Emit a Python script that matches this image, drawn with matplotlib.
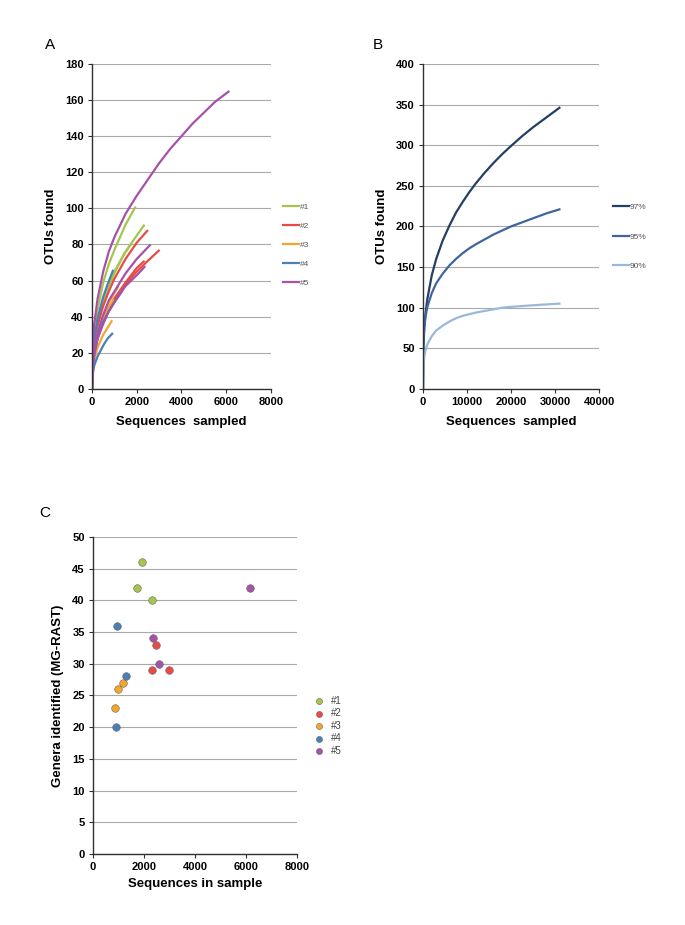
import matplotlib
matplotlib.use("Agg")
import matplotlib.pyplot as plt

plt.rcParams['font.family'] = ['Liberation Sans', 'DejaVu Sans']

# ---------------- Panel A: rarefaction curves per sample (OTUs found) ----------------
groups = ['#1', '#2', '#3', '#4', '#5']
group_colors = ['#a5c64c', '#ea4a45', '#f5a52b', '#4a80b5', '#a652a8']

# each sample: group, sequences sampled (x), OTUs found (y)
curve_groups = ['#1', '#1', '#1', '#2', '#2', '#2', '#3', '#3', '#3',
                '#4', '#4', '#4', '#5', '#5', '#5']
curve_x = [
    [0, 30, 100, 250, 500, 750, 1000, 1500, 1950],
    [0, 30, 100, 250, 500, 750, 1000, 1500, 2000, 2350],
    [0, 30, 100, 250, 500, 750, 1000, 1400, 1730],
    [0, 30, 100, 250, 500, 750, 1000, 1500, 2000, 2500],
    [0, 30, 100, 250, 500, 750, 1000, 1500, 2000, 2500, 3020],
    [0, 30, 100, 250, 500, 750, 1000, 1500, 2000, 2350],
    [0, 30, 100, 250, 500, 700, 900],
    [0, 30, 100, 250, 500, 750, 970],
    [0, 30, 100, 250, 500, 750, 1000, 1180],
    [0, 30, 100, 250, 500, 750, 1000, 1330],
    [0, 30, 100, 250, 500, 700, 935],
    [0, 30, 100, 250, 500, 700, 950],
    [0, 30, 100, 250, 500, 750, 1000, 1500, 2000, 2500, 3000, 3500, 4000,
     4500, 5000, 5500, 6140],
    [0, 30, 100, 250, 500, 750, 1000, 1500, 2000, 2620],
    [0, 30, 100, 250, 500, 750, 1000, 1500, 2000, 2380],
]
curve_y = [
    [0, 19, 31, 44, 59, 69, 77, 91, 101],
    [0, 16, 26, 37, 49, 58, 65, 76, 85, 91],
    [0, 16, 26, 37, 49, 57, 64, 74, 80],
    [0, 15, 24, 35, 46, 54, 61, 72, 81, 88],
    [0, 12, 20, 28, 38, 44, 50, 58, 65, 71, 77],
    [0, 12, 20, 29, 38, 45, 50, 59, 67, 71],
    [0, 10, 16, 23, 30, 34, 38],
    [0, 12, 20, 29, 38, 45, 50],
    [0, 13, 21, 31, 40, 48, 53, 57],
    [0, 12, 19, 28, 37, 43, 48, 54],
    [0, 8, 13, 18, 24, 28, 31],
    [0, 17, 27, 39, 51, 58, 66],
    [0, 23, 36, 50, 65, 76, 84, 97, 107, 116, 125, 133, 140,
     147, 153, 159, 165],
    [0, 13, 22, 31, 41, 49, 54, 64, 72, 80],
    [0, 12, 19, 28, 36, 43, 48, 57, 63, 68],
]

# ---------------- Panel B: pooled rarefaction at three identity cutoffs ----------------
cutoffs = ['97%', '95%', '90%']
cutoff_colors = ['#233f63', '#3f659c', '#9bb8dc']
pooled_x = [0, 100, 300, 600, 1000, 2000, 3000, 4500, 6000, 7500, 9000, 10500,
            12000, 14000, 16000, 18000, 20000, 22500, 25000, 28000, 31000]
otus_97 = [0, 52, 75, 94, 111, 140, 160, 183, 201, 217, 230, 242,
           253, 266, 278, 289, 299, 311, 322, 334, 346]
otus_95 = [0, 60, 77, 90, 101, 118, 130, 142, 152, 160, 167, 173,
           178, 184, 190, 195, 200, 205, 210, 216, 221]
otus_90 = [0, 28, 40, 48, 55, 65, 72, 78, 83, 87, 90, 92,
           94, 96, 98, 100, 101, 102, 103, 104, 105]

# ---------------- Panel C: genera identified vs sequences ----------------
seq_1 = [1930, 1730, 2330]
gen_1 = [46, 42, 40]
seq_2 = [2330, 2470, 2990]
gen_2 = [29, 33, 29]
seq_3 = [870, 970, 1180]
gen_3 = [23, 26, 27]
seq_4 = [905, 945, 1300]
gen_4 = [20, 36, 28]
seq_5 = [2360, 2600, 6140]
gen_5 = [34, 30, 42]

fig = plt.figure(figsize=(6.85, 9.25), dpi=100)


def style_axes(ax):
    for s in ['top', 'right']:
        ax.spines[s].set_visible(False)
    for s in ['left', 'bottom']:
        ax.spines[s].set_color('#303030')
        ax.spines[s].set_linewidth(1.0)
    ax.yaxis.grid(True, color='#a9a9a9', linewidth=0.8)
    ax.set_axisbelow(True)
    ax.tick_params(axis='both', direction='out', length=3, width=0.8,
                   color='#303030', labelsize=8, pad=3)
    for lab in ax.get_xticklabels() + ax.get_yticklabels():
        lab.set_fontweight('bold')


# Panel A
axA = fig.add_axes([0.1343, 0.5795, 0.2613, 0.3514])
color_of = dict(zip(groups, group_colors))
for g, xs, ys in zip(curve_groups, curve_x, curve_y):
    axA.plot(xs, ys, color=color_of[g], lw=1.6, solid_capstyle='butt',
             solid_joinstyle='round')
axA.set_xlim(0, 8000)
axA.set_ylim(0, 180)
axA.set_xticks(range(0, 8001, 2000))
axA.set_yticks(range(0, 181, 20))
style_axes(axA)
axA.set_xlabel('Sequences  sampled', fontsize=9.5, fontweight='bold', labelpad=6)
axA.set_ylabel('OTUs found', fontsize=9.5, fontweight='bold', labelpad=6)
handlesA = [plt.Line2D([], [], color=c, lw=1.6) for c in group_colors]
axA.legend(handlesA, groups, loc='center left', bbox_to_anchor=(1.05, 0.443),
           frameon=False, fontsize=6, labelcolor='#555555', handlelength=1.9,
           handletextpad=0.05, labelspacing=1.35, borderaxespad=0)

# Panel B
axB = fig.add_axes([0.6175, 0.5795, 0.257, 0.3514])
for ys, c in zip([otus_97, otus_95, otus_90], cutoff_colors):
    axB.plot(pooled_x, ys, color=c, lw=1.6, solid_joinstyle='round')
axB.set_xlim(0, 40000)
axB.set_ylim(0, 400)
axB.set_xticks(range(0, 40001, 10000))
axB.set_yticks(range(0, 401, 50))
style_axes(axB)
axB.set_xlabel('Sequences  sampled', fontsize=9.5, fontweight='bold', labelpad=6)
axB.set_ylabel('OTUs found', fontsize=9.5, fontweight='bold', labelpad=6)
handlesB = [plt.Line2D([], [], color=c, lw=1.6) for c in cutoff_colors]
axB.legend(handlesB, cutoffs, loc='center left', bbox_to_anchor=(1.06, 0.468),
           frameon=False, fontsize=6, labelcolor='#555555', handlelength=1.9,
           handletextpad=0.05, labelspacing=2.6, borderaxespad=0)

# Panel C
axC = fig.add_axes([0.1358, 0.0768, 0.2978, 0.3427])
for xs, ys, c, g in zip([seq_1, seq_2, seq_3, seq_4, seq_5],
                        [gen_1, gen_2, gen_3, gen_4, gen_5], group_colors, groups):
    axC.scatter(xs, ys, s=30, color=c, edgecolors='#666666', linewidths=0.4,
                label=g, zorder=3)
axC.set_xlim(0, 8000)
axC.set_ylim(0, 50)
axC.set_xticks(range(0, 8001, 2000))
axC.set_yticks(range(0, 51, 5))
style_axes(axC)
axC.set_xlabel('Sequences in sample', fontsize=9.5, fontweight='bold', labelpad=4)
axC.set_ylabel('Genera identified (MG-RAST)', fontsize=9.5, fontweight='bold', labelpad=6)
axC.legend(loc='center left', bbox_to_anchor=(1.04, 0.404), frameon=False,
           fontsize=7, labelcolor='#444444', handletextpad=0.2, labelspacing=0.25,
           markerscale=0.8, borderaxespad=0, scatterpoints=1)

# panel letters
fig.text(0.073, 0.951, 'A', fontsize=11, ha='center', va='center')
fig.text(0.552, 0.951, 'B', fontsize=11, ha='center', va='center')
fig.text(0.066, 0.445, 'C', fontsize=11, ha='center', va='center')

fig.savefig('out.png', dpi=100)
